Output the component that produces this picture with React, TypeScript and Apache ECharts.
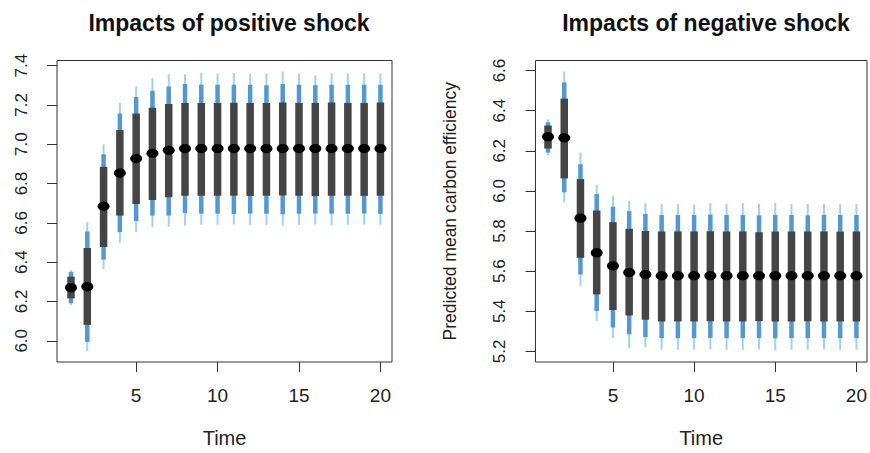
import React, { useEffect, useRef } from "react";
import * as echarts from "echarts";

// Time periods
const time = [1, 2, 3, 4, 5, 6, 7, 8, 9, 10, 11, 12, 13, 14, 15, 16, 17, 18, 19, 20];

// Positive shock panel
const posMed = [6.27, 6.275, 6.684, 6.853, 6.927, 6.954, 6.969, 6.978, 6.978, 6.978, 6.978, 6.978, 6.978, 6.978, 6.978, 6.978, 6.978, 6.978, 6.978, 6.978];
const posDarkLo = [6.216, 6.081, 6.477, 6.637, 6.696, 6.716, 6.73, 6.738, 6.738, 6.738, 6.738, 6.737, 6.738, 6.739, 6.738, 6.737, 6.738, 6.738, 6.737, 6.738];
const posDarkHi = [6.326, 6.472, 6.885, 7.072, 7.156, 7.185, 7.205, 7.21, 7.21, 7.21, 7.211, 7.21, 7.21, 7.212, 7.21, 7.21, 7.212, 7.21, 7.21, 7.212];
const posBlueLo = [6.191, 5.994, 6.413, 6.553, 6.609, 6.637, 6.637, 6.65, 6.646, 6.646, 6.645, 6.647, 6.646, 6.644, 6.646, 6.648, 6.646, 6.646, 6.647, 6.645];
const posBlueHi = [6.351, 6.556, 6.949, 7.156, 7.24, 7.272, 7.294, 7.306, 7.302, 7.302, 7.302, 7.303, 7.3, 7.306, 7.302, 7.3, 7.302, 7.302, 7.303, 7.302];
const posLightLo = [6.182, 5.947, 6.364, 6.499, 6.553, 6.578, 6.581, 6.586, 6.59, 6.59, 6.592, 6.588, 6.59, 6.585, 6.59, 6.592, 6.588, 6.59, 6.592, 6.59];
const posLightHi = [6.359, 6.603, 7.0, 7.21, 7.294, 7.336, 7.356, 7.356, 7.362, 7.36, 7.362, 7.358, 7.36, 7.37, 7.36, 7.35, 7.36, 7.36, 7.36, 7.36];

// Negative shock panel
const negMed = [6.27, 6.265, 5.864, 5.691, 5.626, 5.593, 5.583, 5.577, 5.577, 5.577, 5.577, 5.577, 5.577, 5.577, 5.577, 5.577, 5.577, 5.577, 5.577, 5.577];
const negDarkLo = [6.211, 6.062, 5.666, 5.484, 5.406, 5.379, 5.357, 5.349, 5.349, 5.349, 5.35, 5.349, 5.349, 5.351, 5.349, 5.349, 5.35, 5.349, 5.349, 5.349];
const negDarkHi = [6.326, 6.46, 6.059, 5.902, 5.844, 5.811, 5.8, 5.798, 5.798, 5.798, 5.799, 5.798, 5.798, 5.794, 5.798, 5.797, 5.798, 5.798, 5.797, 5.798];
const negBlueLo = [6.191, 5.993, 5.583, 5.401, 5.319, 5.286, 5.271, 5.266, 5.266, 5.266, 5.267, 5.266, 5.266, 5.267, 5.265, 5.266, 5.266, 5.266, 5.266, 5.266];
const negBlueHi = [6.342, 6.541, 6.133, 5.984, 5.921, 5.899, 5.885, 5.88, 5.88, 5.88, 5.882, 5.88, 5.88, 5.878, 5.88, 5.88, 5.878, 5.88, 5.88, 5.88];
const negLightLo = [6.178, 5.943, 5.527, 5.352, 5.266, 5.217, 5.22, 5.208, 5.208, 5.208, 5.21, 5.208, 5.208, 5.21, 5.206, 5.208, 5.208, 5.21, 5.208, 5.208];
const negLightHi = [6.356, 6.595, 6.191, 6.03, 5.976, 5.951, 5.938, 5.935, 5.935, 5.932, 5.94, 5.935, 5.94, 5.935, 5.94, 5.935, 5.935, 5.935, 5.935, 5.935];

// Tick labels
const xTicks = [5, 10, 15, 20];
const posYTicks = [6.0, 6.2, 6.4, 6.6, 6.8, 7.0, 7.2, 7.4];
const negYTicks = [5.2, 5.4, 5.6, 5.8, 6.0, 6.2, 6.4, 6.6];

const FONT = "'Liberation Sans', Arial, Helvetica, sans-serif";
const AXIS_COLOR = "#333333";
const DARK = "#454545";
const BLUE = "#5498d2";
const LIGHT = "#9fd2f6";

function buildData(med: number[], dLo: number[], dHi: number[], bLo: number[], bHi: number[], lLo: number[], lHi: number[]) {
  return time.map((t, i) => [t, med[i], dLo[i], dHi[i], bLo[i], bHi[i], lLo[i], lHi[i]]);
}

const renderItem = (params: any, api: any) => {
  const x = api.value(0);
  const pMed = api.coord([x, api.value(1)]);
  const pDLo = api.coord([x, api.value(2)]);
  const pDHi = api.coord([x, api.value(3)]);
  const pBLo = api.coord([x, api.value(4)]);
  const pBHi = api.coord([x, api.value(5)]);
  const pLLo = api.coord([x, api.value(6)]);
  const pLHi = api.coord([x, api.value(7)]);
  const cx = pMed[0];
  return {
    type: "group",
    children: [
      {
        type: "line",
        shape: { x1: cx, y1: pLLo[1], x2: cx, y2: pLHi[1] },
        style: { stroke: LIGHT, lineWidth: 2, lineCap: "butt" },
      },
      {
        type: "line",
        shape: { x1: cx, y1: pBLo[1], x2: cx, y2: pBHi[1] },
        style: { stroke: BLUE, lineWidth: 4.5, lineCap: "butt" },
      },
      {
        type: "line",
        shape: { x1: cx, y1: pDLo[1], x2: cx, y2: pDHi[1] },
        style: { stroke: DARK, lineWidth: 7.5, lineCap: "butt" },
      },
      {
        type: "ellipse",
        shape: { cx: cx, cy: pMed[1], rx: 6, ry: 4.6 },
        style: { fill: "#000000" },
      },
    ],
  };
};

function xAxisCfg(gridIndex: number, min: number, max: number) {
  return {
    type: "value",
    gridIndex,
    min,
    max,
    name: "Time",
    nameLocation: "middle",
    nameGap: 66,
    nameTextStyle: { fontFamily: FONT, fontSize: 20, color: "#222" },
    axisLine: { show: false },
    axisTick: { show: true, length: 10, inside: false, customValues: xTicks, lineStyle: { color: AXIS_COLOR, width: 1 } },
    axisLabel: { show: true, customValues: xTicks, margin: 24, fontFamily: FONT, fontSize: 19, color: "#222" },
    splitLine: { show: false },
  };
}

function yAxisCfg(gridIndex: number, min: number, max: number, ticks: number[], name: string, margin: number) {
  return {
    type: "value",
    gridIndex,
    min,
    max,
    name,
    nameLocation: "middle",
    nameGap: 77,
    nameTextStyle: { fontFamily: FONT, fontSize: 17.5, color: "#222" },
    axisLine: { show: false },
    axisTick: { show: true, length: 10, inside: false, customValues: ticks, lineStyle: { color: AXIS_COLOR, width: 1 } },
    axisLabel: {
      show: true,
      customValues: ticks,
      rotate: 90,
      margin,
      fontFamily: FONT,
      fontSize: 17,
      color: "#222",
      formatter: (v: number) => v.toFixed(1),
    },
    splitLine: { show: false },
  };
}

export default function App() {
  const ref = useRef<HTMLDivElement>(null);

  useEffect(() => {
    if (!ref.current) return;
    const chart = echarts.init(ref.current, undefined, { renderer: "svg" });
    chart.setOption({
      animation: false,
      backgroundColor: "#ffffff",
      title: [
        {
          text: "Impacts of positive shock",
          left: 224,
          top: 6,
          textAlign: "center",
          textStyle: { fontFamily: FONT, fontSize: 23, fontWeight: "bold", color: "#111" },
        },
        {
          text: "Impacts of negative shock",
          left: 701,
          top: 6,
          textAlign: "center",
          textStyle: { fontFamily: FONT, fontSize: 23, fontWeight: "bold", color: "#111" },
        },
      ],
      grid: [
        { left: 57, top: 60.5, width: 335, height: 303.5, show: true, borderColor: AXIS_COLOR, borderWidth: 1, backgroundColor: "transparent" },
        { left: 535.5, top: 60.5, width: 333.5, height: 303.5, show: true, borderColor: AXIS_COLOR, borderWidth: 1, backgroundColor: "transparent" },
      ],
      xAxis: [xAxisCfg(0, 0.14, 20.71), xAxisCfg(1, 0.23, 20.65)],
      yAxis: [
        yAxisCfg(0, 5.892, 7.426, posYTicks, "", 27),
        yAxisCfg(1, 5.147, 6.65, negYTicks, "Predicted mean carbon efficiency", 28),
      ],
      series: [
        {
          type: "custom",
          xAxisIndex: 0,
          yAxisIndex: 0,
          clip: false,
          renderItem,
          encode: { x: 0, y: [1, 2, 3, 4, 5, 6, 7] },
          data: buildData(posMed, posDarkLo, posDarkHi, posBlueLo, posBlueHi, posLightLo, posLightHi),
        },
        {
          type: "custom",
          xAxisIndex: 1,
          yAxisIndex: 1,
          clip: false,
          renderItem,
          encode: { x: 0, y: [1, 2, 3, 4, 5, 6, 7] },
          data: buildData(negMed, negDarkLo, negDarkHi, negBlueLo, negBlueHi, negLightLo, negLightHi),
        },
      ],
    });
    return () => chart.dispose();
  }, []);

  return <div ref={ref} style={{ position: "fixed", left: 0, top: 0, width: 870, height: 453 }} />;
}
